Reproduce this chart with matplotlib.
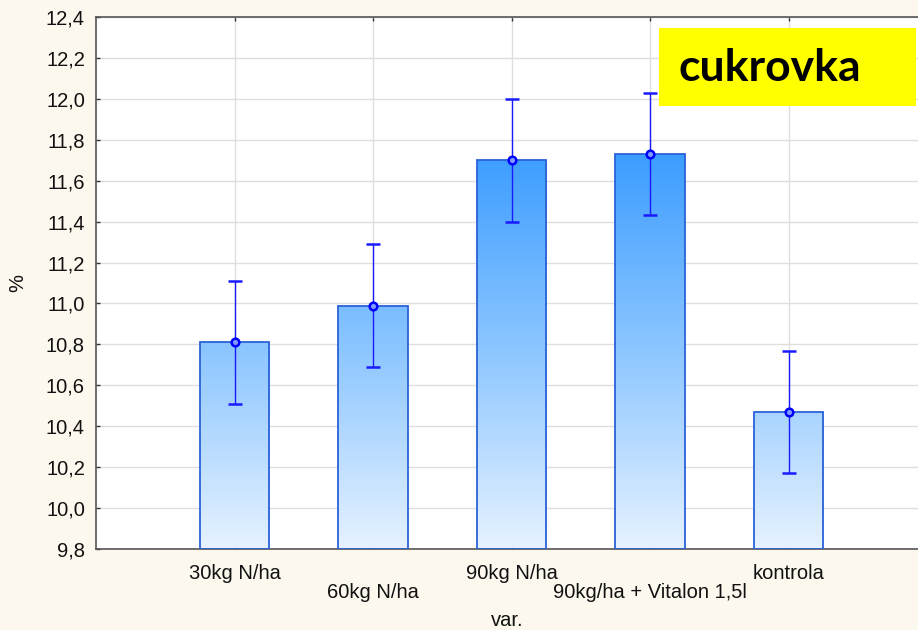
import numpy as np
import matplotlib
matplotlib.use("Agg")
import matplotlib.pyplot as plt
from matplotlib.colors import LinearSegmentedColormap
from matplotlib.patches import Rectangle
from matplotlib.ticker import FuncFormatter, MultipleLocator
from matplotlib.transforms import ScaledTranslation

plt.rcParams['font.family'] = ['Liberation Sans', 'DejaVu Sans']

categories = ["30kg N/ha", "60kg N/ha", "90kg N/ha", "90kg/ha + Vitalon 1,5l", "kontrola"]
means = [10.81, 10.99, 11.70, 11.73, 10.47]
errors = [0.30, 0.30, 0.30, 0.30, 0.30]

y_min, y_max = 9.8, 12.4

fig = plt.figure(figsize=(9.18, 6.30), dpi=100, facecolor="#fdf8ee")
ax = fig.add_axes([96 / 918, 1 - 549 / 630, 1 - 96 / 918 + 0.01, (549 - 17) / 630])
ax.set_facecolor("white")

x = np.arange(1, len(categories) + 1)
width = 0.5

# vertical gradient shared by all bars (depends on absolute height)
grad_cmap = LinearSegmentedColormap.from_list("bluegrad", ["#e6f2ff", "#8cc6ff", "#3b9cff"])
grad = np.linspace(0, 1, 256).reshape(-1, 1)
g_top = 11.75

bars = ax.bar(x, [m - y_min for m in means], width, bottom=y_min,
              facecolor="none", edgecolor="#2a62d8", linewidth=1.3, zorder=3)
for b in bars:
    im = ax.imshow(grad, cmap=grad_cmap, aspect="auto", origin="lower",
                   extent=[b.get_x(), b.get_x() + b.get_width(), y_min, g_top],
                   zorder=2, interpolation="bicubic")
    im.set_clip_path(b)

ax.errorbar(x, means, yerr=errors, fmt="o", color="#0000ff", ecolor="#1a1aff",
            elinewidth=1.0, capsize=5, capthick=1.0, markersize=5.5,
            markerfacecolor="#7f9bff", markeredgecolor="#0000ff", markeredgewidth=1.8,
            zorder=5)

ax.set_xlim(0, 6)
ax.set_ylim(y_min, y_max)
ax.yaxis.set_major_locator(MultipleLocator(0.2))
ax.yaxis.set_major_formatter(FuncFormatter(lambda v, p: f"{v:.1f}".replace(".", ",")))
ax.set_xticks(x)
ax.set_xticklabels(categories)

ax.grid(True, color="#dedede", linewidth=1.0, zorder=0)
ax.set_axisbelow(True)

for s in ["left", "bottom", "top"]:
    ax.spines[s].set_color("#555555")
    ax.spines[s].set_linewidth(1.2)
ax.spines["right"].set_visible(False)

ax.tick_params(axis="both", direction="in", length=3, width=1, colors="#333333",
               labelcolor="#111111", labelsize=14.5)
ax.tick_params(axis="x", top=True, pad=11)
ax.tick_params(axis="y", pad=8)

# stagger every second category label onto a lower row
for i, lbl in enumerate(ax.get_xticklabels()):
    if i % 2 == 1:
        lbl.set_transform(lbl.get_transform() + ScaledTranslation(0, -19 / 100, fig.dpi_scale_trans))

fig.text(18 / 918, 1 - 283 / 630, "%", fontsize=14.5, rotation=90,
         ha="center", va="center", color="#111111")
fig.text(507 / 918, 1 - 621 / 630, "var.", fontsize=14.5,
         ha="center", va="center", color="#111111")

# crop label box
fig.patches.append(Rectangle((659 / 918, 1 - 106 / 630), 257 / 918, 78 / 630,
                             transform=fig.transFigure, facecolor="#ffff00",
                             edgecolor="none", zorder=10))
fig.text(678 / 918, 1 - 68 / 630, "cukrovka", family=["Lato", "DejaVu Sans"],
         fontweight="bold", fontsize=32, va="center", ha="left", zorder=11)

fig.savefig("out.png", dpi=100, facecolor=fig.get_facecolor())
